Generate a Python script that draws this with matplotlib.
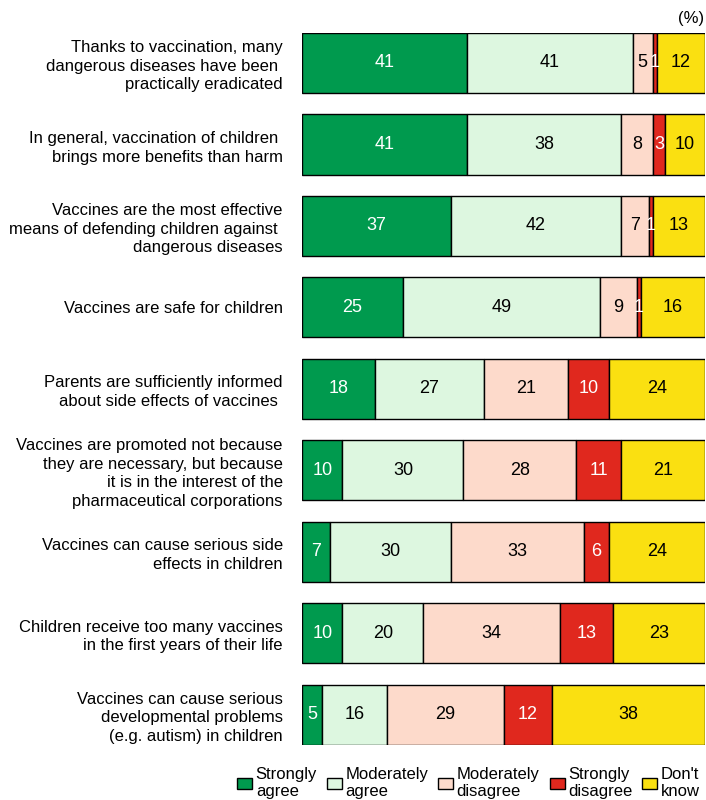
import matplotlib.pyplot as plt

plt.rcParams["font.family"] = ["Liberation Sans", "DejaVu Sans"]

enunciados = [
    "Thanks to vaccination, many\ndangerous diseases have been \npractically eradicated",
    "In general, vaccination of children \nbrings more benefits than harm",
    "Vaccines are the most effective\nmeans of defending children against \ndangerous diseases",
    "Vaccines are safe for children",
    "Parents are sufficiently informed\nabout side effects of vaccines ",
    "Vaccines are promoted not because\nthey are necessary, but because\nit is in the interest of the\npharmaceutical corporations",
    "Vaccines can cause serious side\neffects in children",
    "Children receive too many vaccines\nin the first years of their life",
    "Vaccines can cause serious\ndevelopmental problems\n(e.g. autism) in children",
]
muy_de_acuerdo = [41, 41, 37, 25, 18, 10, 7, 10, 5]
algo_de_acuerdo = [41, 38, 42, 49, 27, 30, 30, 20, 16]
algo_en_desacuerdo = [5, 8, 7, 9, 21, 28, 33, 34, 29]
muy_en_desacuerdo = [1, 3, 1, 1, 10, 11, 6, 13, 12]
no_sabe = [12, 10, 13, 16, 24, 21, 24, 23, 38]

series = [muy_de_acuerdo, algo_de_acuerdo, algo_en_desacuerdo, muy_en_desacuerdo, no_sabe]
nombres = ["Strongly\nagree", "Moderately\nagree", "Moderately\ndisagree",
           "Strongly\ndisagree", "Don't\nknow"]
colores = ["#009A4E", "#DDF7E0", "#FDDACB", "#E0281E", "#FAE011"]
color_texto = ["white", "black", "black", "white", "black"]

fig = plt.figure(figsize=(7.06, 8), dpi=100)
ax = fig.add_axes([0.428, 0.069, 0.571, 0.89])

pos = list(range(len(enunciados)))
izq = [0] * len(enunciados)
for datos, nombre, color, ct in zip(series, nombres, colores, color_texto):
    ax.barh(pos, datos, left=izq, height=0.74, color=color,
            edgecolor="black", linewidth=1, label=nombre)
    for i, v in enumerate(datos):
        ax.text(izq[i] + v / 2, i, str(v), ha="center", va="center",
                color=ct, fontsize=13)
    izq = [a + b for a, b in zip(izq, datos)]

ax.set_xlim(0, 100)
ax.set_ylim(8.37, -0.37)
ax.set_yticks(pos)
ax.set_yticklabels(enunciados, fontsize=12, ha="right", linespacing=1.3)
ax.tick_params(axis="y", length=0, pad=14)
ax.set_xticks([])
for s in ax.spines.values():
    s.set_visible(False)

fig.text(0.997, 0.977, "(%)", ha="right", va="center", fontsize=12)

fig.legend(loc="lower right", bbox_to_anchor=(1.012, -0.018), ncol=5, frameon=False,
           fontsize=12, handlelength=0.9, handleheight=0.7, handletextpad=0.2,
           columnspacing=0.6, labelspacing=0.2)

fig.savefig("out.png", dpi=100)
